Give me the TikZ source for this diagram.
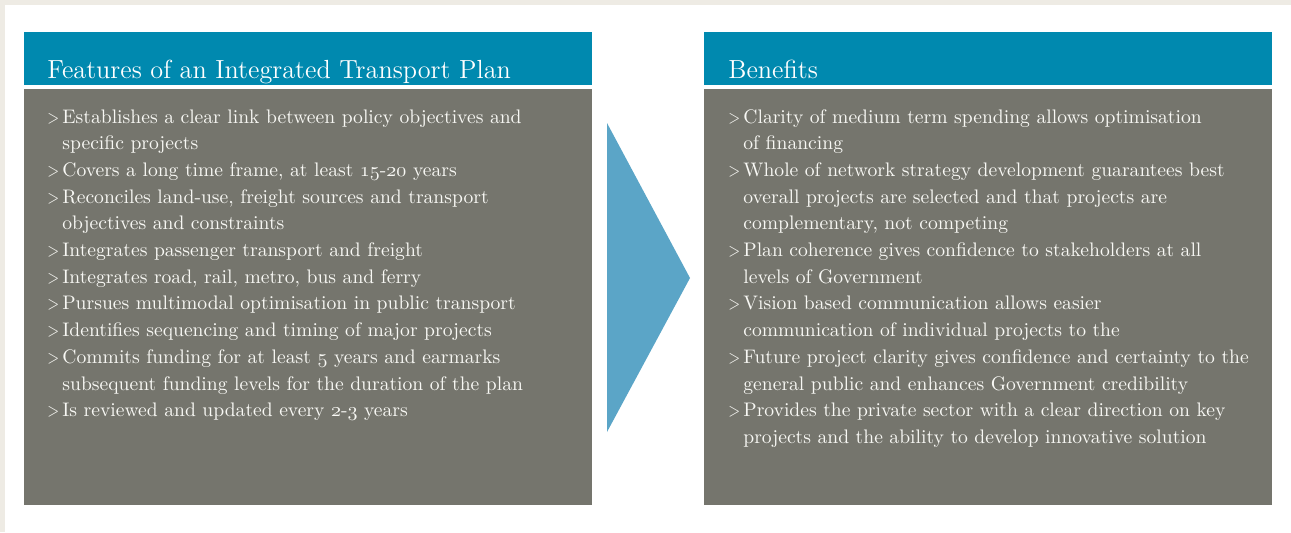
\documentclass[tikz,border=0pt]{standalone}
\usepackage{fontspec}
\definecolor{headblue}{HTML}{0089AF}
\definecolor{bodygrey}{HTML}{75756D}
\definecolor{arrowblue}{HTML}{5BA5C7}
\definecolor{paper}{HTML}{EEEBE4}
\definecolor{textwhite}{HTML}{F8F8F4}
\newcommand{\itm}{\makebox[7.5pt][l]{\scalebox{0.78}[0.95]{>}}}
\newcommand{\cont}{\hspace*{7.5pt}}
\newcommand{\osf}[1]{{\fontencoding{OML}\fontfamily{cmm}\fontseries{m}\fontshape{it}\selectfont #1}}
\tikzset{
  headbox/.style={fill=headblue, minimum width=284pt, minimum height=26.5pt, inner sep=0pt},
  bodybox/.style={fill=bodygrey, minimum width=284pt, minimum height=208pt, inner sep=0pt},
  title/.style={anchor=base west, inner sep=0pt, text=white, font=\fontsize{13.1}{16}\selectfont},
  items/.style={anchor=base west, inner sep=0pt, text=textwhite, text width=275pt, align=left,
    font=\fontsize{9.8}{13.35}\selectfont},
}
\begin{document}
\begin{tikzpicture}[x=0.5pt,y=-0.5pt]
    \useasboundingbox (0,0) rectangle (1291,532);
    \fill[white] (0,0) rectangle (1291,532);
    \fill[paper] (0,0) rectangle (1291,5);
    \fill[paper] (0,0) rectangle (5,532);

    % left column
    \node [headbox] (fhead) at (308,58.5) {};
    \node [bodybox] (fbody) at (308,297) {};
    \node [title] (ftitle) at (47,78) {Features of an Integrated Transport Plan};
    \node [items] (flist) at (47,123) {%
      \itm Establishes a clear link between policy objectives and\\
      \cont specific projects\\
      \itm Covers a long time frame, at least \osf{15}-\osf{20} years\\
      \itm Reconciles land-use, freight sources and transport\\
      \cont objectives and constraints\\
      \itm Integrates passenger transport and freight\\
      \itm Integrates road, rail, metro, bus and ferry\\
      \itm Pursues multimodal optimisation in public transport\\
      \itm Identifies sequencing and timing of major projects\\
      \itm Commits funding for at least \osf{5} years and earmarks\\
      \cont subsequent funding levels for the duration of the plan\\
      \itm Is reviewed and updated every \osf{2}-\osf{3} years};

    % right column
    \node [headbox] (bhead) at (988,58.5) {};
    \node [bodybox] (bbody) at (988,297) {};
    \node [title] (btitle) at (728,78) {Benefits};
    \node [items] (blist) at (728,123) {%
      \itm Clarity of medium term spending allows optimisation\\
      \cont of financing\\
      \itm Whole of network strategy development guarantees best\\
      \cont overall projects are selected and that projects are\\
      \cont complementary, not competing\\
      \itm Plan coherence gives confidence to stakeholders at all\\
      \cont levels of Government\\
      \itm Vision based communication allows easier\\
      \cont communication of individual projects to the\\
      \itm Future project clarity gives confidence and certainty to the\\
      \cont general public and enhances Government credibility\\
      \itm Provides the private sector with a clear direction on key\\
      \cont projects and the ability to develop innovative solution};

    % arrow between
    \fill[arrowblue] (607,123) -- (690,278) -- (607,432) -- cycle;
\end{tikzpicture}
\end{document}
